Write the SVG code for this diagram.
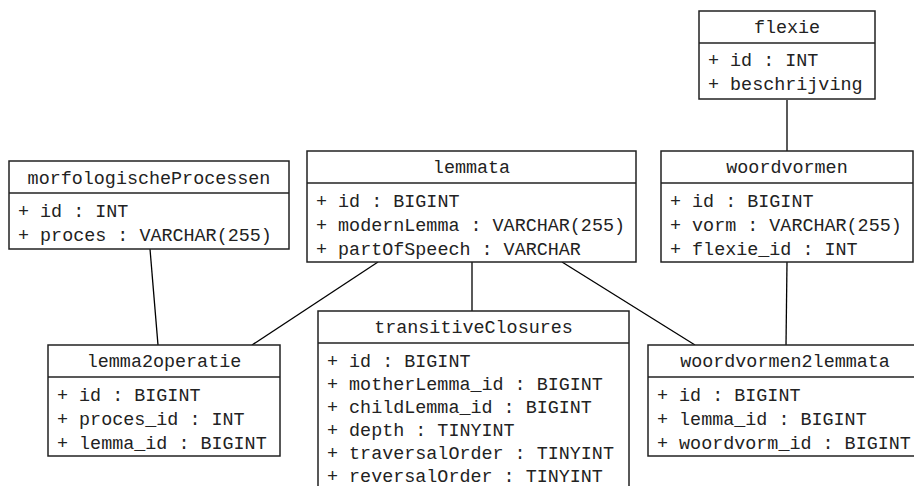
<svg xmlns="http://www.w3.org/2000/svg" width="914" height="486" viewBox="0 0 914 486">
<style>
.box{fill:#fff;stroke:#222;stroke-width:1.5}
.div{stroke:#222;stroke-width:1.5}
.t{font-family:"Liberation Mono","Courier New",monospace;font-size:18.4px;fill:#222}
.c{text-anchor:middle}
.edge{stroke:#000;stroke-width:1.3;fill:none}
</style>
<rect width="914" height="486" fill="#fff"/>
<g id="connectors">
<line class="edge" x1="787" y1="100" x2="787" y2="151"/>
<line class="edge" x1="150" y1="249" x2="158" y2="345"/>
<line class="edge" x1="378" y1="262" x2="252" y2="345"/>
<line class="edge" x1="472" y1="262" x2="472" y2="311"/>
<line class="edge" x1="562" y1="262" x2="695" y2="345"/>
<line class="edge" x1="787" y1="262" x2="786" y2="345"/>
</g>
<g id="flexie">
<rect class="box" x="699" y="11" width="176" height="88"/>
<line class="div" x1="699" y1="43" x2="875" y2="43"/>
<text class="t c" x="787" y="33">flexie</text>
<text class="t" x="708" y="66">+ id : INT</text>
<text class="t" x="708" y="90">+ beschrijving</text>
</g>
<g id="morfologischeProcessen">
<rect class="box" x="9" y="161" width="280" height="88"/>
<line class="div" x1="9" y1="193" x2="289" y2="193"/>
<text class="t c" x="149" y="184">morfologischeProcessen</text>
<text class="t" x="18" y="217">+ id : INT</text>
<text class="t" x="18" y="241">+ proces : VARCHAR(255)</text>
</g>
<g id="lemmata">
<rect class="box" x="307" y="151" width="329" height="111"/>
<line class="div" x1="307" y1="183" x2="636" y2="183"/>
<text class="t c" x="471.5" y="173">lemmata</text>
<text class="t" x="316" y="207">+ id : BIGINT</text>
<text class="t" x="316" y="231">+ modernLemma : VARCHAR(255)</text>
<text class="t" x="316" y="255">+ partOfSpeech : VARCHAR</text>
</g>
<g id="woordvormen">
<rect class="box" x="661" y="151" width="252" height="111"/>
<line class="div" x1="661" y1="183" x2="913" y2="183"/>
<text class="t c" x="787" y="173">woordvormen</text>
<text class="t" x="670" y="207">+ id : BIGINT</text>
<text class="t" x="670" y="231">+ vorm : VARCHAR(255)</text>
<text class="t" x="670" y="255">+ flexie_id : INT</text>
</g>
<g id="lemma2operatie">
<rect class="box" x="48" y="345" width="232" height="111"/>
<line class="div" x1="48" y1="377" x2="280" y2="377"/>
<text class="t c" x="164" y="367">lemma2operatie</text>
<text class="t" x="57" y="401">+ id : BIGINT</text>
<text class="t" x="57" y="425">+ proces_id : INT</text>
<text class="t" x="57" y="449">+ lemma_id : BIGINT</text>
</g>
<g id="transitiveClosures">
<rect class="box" x="318" y="311" width="311" height="190"/>
<line class="div" x1="318" y1="343" x2="629" y2="343"/>
<text class="t c" x="473.5" y="333">transitiveClosures</text>
<text class="t" x="327" y="367">+ id : BIGINT</text>
<text class="t" x="327" y="390">+ motherLemma_id : BIGINT</text>
<text class="t" x="327" y="413">+ childLemma_id : BIGINT</text>
<text class="t" x="327" y="436">+ depth : TINYINT</text>
<text class="t" x="327" y="459">+ traversalOrder : TINYINT</text>
<text class="t" x="327" y="482">+ reversalOrder : TINYINT</text>
</g>
<g id="woordvormen2lemmata">
<rect class="box" x="648" y="345" width="274" height="111"/>
<line class="div" x1="648" y1="377" x2="922" y2="377"/>
<text class="t c" x="785" y="367">woordvormen2lemmata</text>
<text class="t" x="657" y="401">+ id : BIGINT</text>
<text class="t" x="657" y="425">+ lemma_id : BIGINT</text>
<text class="t" x="657" y="449">+ woordvorm_id : BIGINT</text>
</g>
</svg>
